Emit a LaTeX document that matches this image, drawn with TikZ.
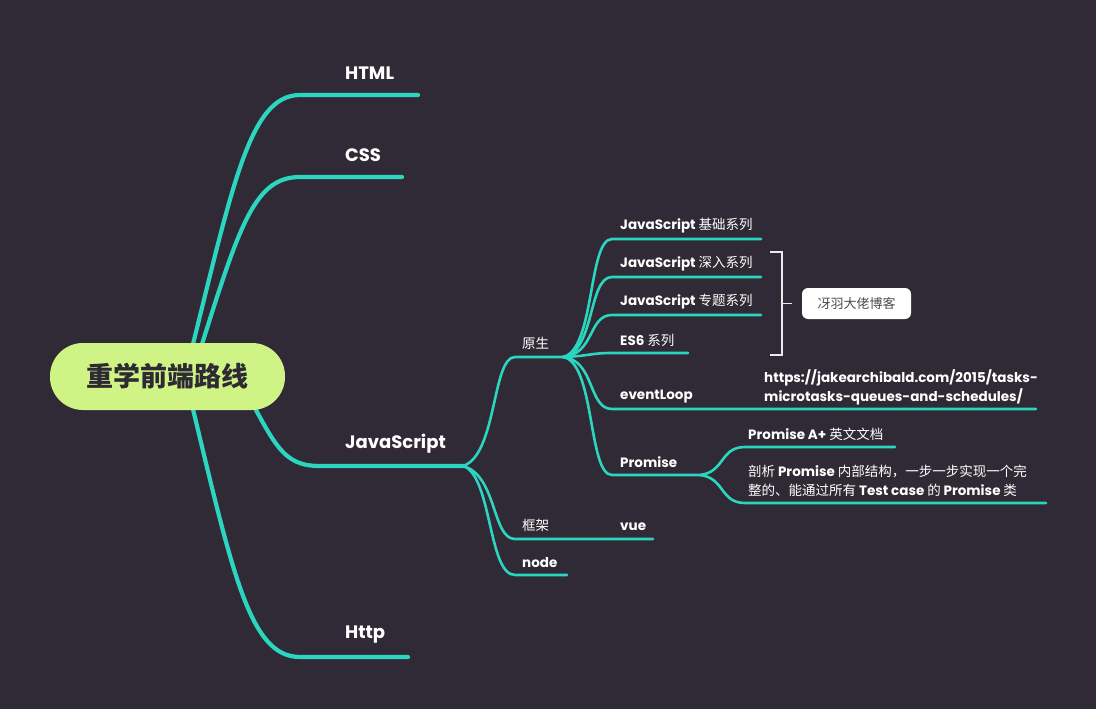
\documentclass[tikz,border=0pt]{standalone}
\usepackage{fontspec}
\setmainfont{Poppins}
\newfontfamily\cjk{Noto Sans CJK SC}
\definecolor{bg}{HTML}{2F2A35}
\definecolor{teal}{HTML}{2CD5BF}
\definecolor{lime}{HTML}{CFF485}
\definecolor{darktxt}{HTML}{2E2A34}
\begin{document}
\begin{tikzpicture}[x=1pt,y=-1pt,
  lone/.style={draw=teal,line width=4.2pt,line cap=round},
  ltwo/.style={draw=teal,line width=2.6pt,line cap=round},
  tone/.style={anchor=west,inner sep=0pt,text=white,font=\fontsize{18}{22}\selectfont\bfseries},
  ttwo/.style={anchor=west,inner sep=0pt,text=white,font=\fontsize{13.5}{19}\selectfont\bfseries},
  ttwoml/.style={ttwo,align=left},
  centre/.style={fill=lime,rounded corners=33pt,minimum width=235pt,minimum height=67pt,inner sep=0pt,text=darktxt,font=\fontsize{27}{30}\selectfont\cjk\bfseries},
  bracket/.style={draw=white!92!black,line width=1.6pt},
  tag/.style={fill=white,rounded corners=6pt,minimum width=109pt,minimum height=31pt,inner sep=0pt,text=darktxt!85!white,font=\fontsize{13}{15}\selectfont\cjk}
]
\fill[bg] (0,0) rectangle (1096,709);
\useasboundingbox (0,0) rectangle (1096,709);

% branch points
\coordinate (rA) at (185,376);
\coordinate (rB) at (192,376);
\coordinate (rC) at (240,380);
\coordinate (js) at (463,466);
\coordinate (ys) at (563,357);
\coordinate (pr) at (700,475);

% end points
\coordinate (eHTML) at (418,95);
\coordinate (eCSS) at (402,177);
\coordinate (eJS) at (463,466);
\coordinate (eHttp) at (408,657);
\coordinate (eYS) at (563,357);
\coordinate (eKJ) at (653,539);
\coordinate (eNode) at (567,575);
\coordinate (eJC) at (761,239);
\coordinate (eSR) at (761,277);
\coordinate (eZT) at (761,315);
\coordinate (eES) at (688,353);
\coordinate (eEL) at (1036,409);
\coordinate (ePR) at (700,475);
\coordinate (eAP) at (895,447);
\coordinate (ePX) at (1046,503);

% level 1 connectors
\draw[lone] (rA) .. controls (232,190) and (248,95) .. (300,95) -- (eHTML);
\draw[lone] (rB) .. controls (238,230) and (252,177) .. (300,177) -- (eCSS);
\draw[lone] (rC) .. controls (275,445) and (282,466) .. (320,466) -- (eJS);
\draw[lone] (rA) .. controls (232,570) and (248,657) .. (300,657) -- (eHttp);

% level 2 connectors
\draw[ltwo] (js) .. controls (497,455) and (492,357) .. (515,357) -- (eYS);
\draw[ltwo] (js) .. controls (497,475) and (492,539) .. (515,539) -- (eKJ);
\draw[ltwo] (js) .. controls (492,475) and (488,575) .. (515,575) -- (eNode);

% level 3 connectors
\draw[ltwo] (ys) .. controls (595,350) and (588,239) .. (612,239) -- (eJC);
\draw[ltwo] (ys) .. controls (595,352) and (588,277) .. (612,277) -- (eSR);
\draw[ltwo] (ys) .. controls (595,354) and (588,315) .. (612,315) -- (eZT);
\draw[ltwo] (ys) .. controls (590,356) and (590,353) .. (612,353) -- (eES);
\draw[ltwo] (ys) .. controls (595,360) and (588,409) .. (612,409) -- (eEL);
\draw[ltwo] (ys) .. controls (595,362) and (588,475) .. (612,475) -- (ePR);

% level 4
\draw[ltwo] (pr) .. controls (725,472) and (720,447) .. (745,447) -- (eAP);
\draw[ltwo] (pr) .. controls (725,478) and (720,503) .. (745,503) -- (ePX);

% central node
\node[centre] (root) at (167.5,376.5) {重学前端路线};

% labels
\node[tone] (html) at (345,73) {HTML};
\node[tone] (css) at (345,155) {CSS};
\node[tone] (jsl) at (345,444) {JavaScript};
\node[tone] (http) at (345,635) {Http};

\node[ttwo] (yuan) at (522,343) {\cjk\mdseries 原生};
\node[ttwo] (kuang) at (522,525) {\cjk\mdseries 框架};
\node[ttwo] (nodel) at (522,562.5) {node};
\node[ttwo] (vue) at (620,526.5) {vue};

\node[ttwo] (jc) at (620,226) {JavaScript {\cjk\mdseries 基础系列}};
\node[ttwo] (sr) at (620,264) {JavaScript {\cjk\mdseries 深入系列}};
\node[ttwo] (zt) at (620,302) {JavaScript {\cjk\mdseries 专题系列}};
\node[ttwo] (es) at (620,340) {ES6 {\cjk\mdseries 系列}};
\node[ttwo] (el) at (620,396.5) {eventLoop};
\node[ttwoml] (url) at (764,387) {https://jakearchibald.com/2015/tasks-\\microtasks-queues-and-schedules/};
\node[ttwo] (prl) at (620,462.5) {Promise};
\node[ttwo] (ap) at (748,434) {Promise A+ {\cjk\mdseries 英文文档}};
\node[ttwoml] (px) at (748,481) {{\cjk\mdseries 剖析} Promise {\cjk\mdseries 内部结构，一步一步实现一个完}\\{\cjk\mdseries 整的、能通过所有} Test case {\cjk\mdseries 的} Promise {\cjk\mdseries 类}};

% bracket
\coordinate (bt) at (770,252);
\coordinate (bb) at (770,355);
\coordinate (bm) at (782,303.5);
\draw[bracket] (bt) -- (782,252) -- (782,355) -- (bb);
\draw[bracket] (bm) -- (792,303.5);
\node[tag] (blog) at (856.5,303.5) {冴羽大佬博客};
\end{tikzpicture}
\end{document}
